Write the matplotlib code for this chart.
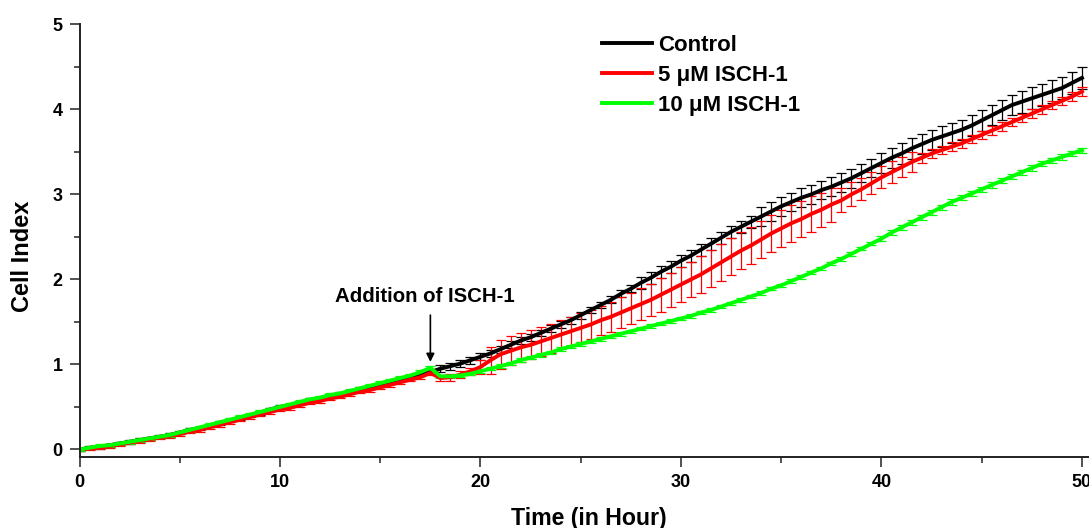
import matplotlib
matplotlib.use("Agg")
import matplotlib.pyplot as plt
import numpy as np
from matplotlib.ticker import MultipleLocator
from matplotlib.lines import Line2D

plt.rcParams['font.family'] = ['Liberation Sans', 'DejaVu Sans']
plt.rcParams['font.weight'] = 'bold'

# time points (hours), every 0.5 h
time_h = np.arange(0, 50.01, 0.5)

control = [0.00, 0.02, 0.03, 0.05, 0.07, 0.09, 0.11, 0.13, 0.15, 0.17,
           0.20, 0.23, 0.25, 0.28, 0.31, 0.34, 0.37, 0.40, 0.43, 0.47,
           0.50, 0.52, 0.55, 0.58, 0.60, 0.63, 0.65, 0.68, 0.71, 0.73,
           0.76, 0.79, 0.82, 0.85, 0.88, 0.91, 0.95, 0.98, 1.01, 1.05,
           1.09, 1.13, 1.18, 1.23, 1.28, 1.32, 1.37, 1.42, 1.47, 1.52,
           1.58, 1.64, 1.70, 1.76, 1.83, 1.89, 1.96, 2.02, 2.09, 2.15,
           2.22, 2.28, 2.35, 2.42, 2.49, 2.56, 2.62, 2.68, 2.74, 2.80,
           2.86, 2.91, 2.96, 3.00, 3.05, 3.09, 3.14, 3.19, 3.25, 3.31,
           3.37, 3.43, 3.48, 3.54, 3.59, 3.64, 3.68, 3.72, 3.76, 3.81,
           3.87, 3.93, 3.99, 4.05, 4.09, 4.13, 4.17, 4.21, 4.25, 4.31,
           4.37]
control_err = [0.02, 0.02, 0.02, 0.02, 0.02, 0.02, 0.02, 0.02, 0.02, 0.02,
               0.02, 0.02, 0.02, 0.02, 0.02, 0.02, 0.02, 0.02, 0.02, 0.02,
               0.02, 0.02, 0.02, 0.02, 0.02, 0.02, 0.02, 0.02, 0.02, 0.02,
               0.02, 0.02, 0.02, 0.02, 0.02, 0.02, 0.04, 0.04, 0.04, 0.04,
               0.04, 0.04, 0.04, 0.04, 0.04, 0.04, 0.04, 0.04, 0.04, 0.04,
               0.04, 0.04, 0.04, 0.04, 0.04, 0.04, 0.07, 0.07, 0.07, 0.07,
               0.07, 0.07, 0.07, 0.07, 0.07, 0.07, 0.07, 0.07, 0.11, 0.11,
               0.11, 0.11, 0.11, 0.11, 0.11, 0.11, 0.11, 0.11, 0.11, 0.11,
               0.12, 0.12, 0.12, 0.12, 0.12, 0.12, 0.12, 0.12, 0.12, 0.12,
               0.12, 0.12, 0.12, 0.12, 0.13, 0.13, 0.13, 0.13, 0.13, 0.13,
               0.13]

isch_5 = [0.00, 0.01, 0.02, 0.04, 0.06, 0.08, 0.10, 0.12, 0.14, 0.16,
          0.18, 0.21, 0.23, 0.26, 0.29, 0.32, 0.35, 0.38, 0.41, 0.44,
          0.47, 0.49, 0.52, 0.55, 0.57, 0.60, 0.62, 0.65, 0.68, 0.70,
          0.73, 0.76, 0.79, 0.82, 0.85, 0.90, 0.84, 0.85, 0.88, 0.92,
          0.97, 1.05, 1.12, 1.16, 1.20, 1.23, 1.27, 1.31, 1.35, 1.39,
          1.43, 1.47, 1.52, 1.56, 1.61, 1.66, 1.71, 1.76, 1.82, 1.88,
          1.94, 2.00, 2.06, 2.13, 2.20, 2.27, 2.34, 2.40, 2.47, 2.54,
          2.60, 2.66, 2.71, 2.77, 2.82, 2.88, 2.93, 3.00, 3.06, 3.13,
          3.20, 3.26, 3.32, 3.38, 3.43, 3.48, 3.52, 3.56, 3.60, 3.65,
          3.70, 3.75, 3.80, 3.85, 3.90, 3.95, 4.00, 4.05, 4.10, 4.15,
          4.21]
isch_5_err = [0.02, 0.02, 0.02, 0.02, 0.02, 0.02, 0.02, 0.02, 0.02, 0.02,
              0.02, 0.02, 0.02, 0.02, 0.02, 0.02, 0.02, 0.02, 0.02, 0.02,
              0.02, 0.02, 0.02, 0.02, 0.02, 0.02, 0.02, 0.02, 0.02, 0.02,
              0.02, 0.02, 0.02, 0.02, 0.02, 0.02, 0.04, 0.04, 0.04, 0.04,
              0.08, 0.16, 0.17, 0.17, 0.17, 0.17, 0.17, 0.17, 0.17, 0.17,
              0.17, 0.17, 0.17, 0.18, 0.18, 0.18, 0.19, 0.19, 0.20, 0.20,
              0.21, 0.21, 0.22, 0.22, 0.22, 0.22, 0.22, 0.22, 0.22, 0.22,
              0.22, 0.22, 0.21, 0.21, 0.20, 0.20, 0.14, 0.14, 0.13, 0.13,
              0.13, 0.13, 0.12, 0.12, 0.06, 0.05, 0.05, 0.05, 0.05, 0.05,
              0.05, 0.05, 0.05, 0.05, 0.05, 0.05, 0.05, 0.05, 0.05, 0.05,
              0.05]

isch_10 = [0.00, 0.02, 0.04, 0.05, 0.07, 0.09, 0.11, 0.13, 0.15, 0.17,
           0.20, 0.23, 0.26, 0.29, 0.32, 0.35, 0.38, 0.41, 0.44, 0.47,
           0.50, 0.53, 0.56, 0.59, 0.61, 0.64, 0.66, 0.69, 0.72, 0.75,
           0.78, 0.81, 0.84, 0.87, 0.91, 0.96, 0.86, 0.86, 0.87, 0.89,
           0.92, 0.95, 0.98, 1.01, 1.05, 1.08, 1.11, 1.14, 1.18, 1.21,
           1.24, 1.27, 1.30, 1.33, 1.36, 1.39, 1.42, 1.45, 1.48, 1.51,
           1.54, 1.57, 1.61, 1.64, 1.68, 1.72, 1.76, 1.80, 1.84, 1.89,
           1.93, 1.98, 2.03, 2.08, 2.13, 2.19, 2.24, 2.30, 2.36, 2.42,
           2.48, 2.55, 2.61, 2.67, 2.73, 2.79, 2.85, 2.91, 2.96, 3.01,
           3.06, 3.11, 3.16, 3.21, 3.26, 3.31, 3.36, 3.40, 3.44, 3.48,
           3.52]
isch_10_err = [0.02] * 80 + [0.03] * 21

labels = ['Control', '5 \u03bcM ISCH-1', '10 \u03bcM ISCH-1']
colors = ['#000000', '#ff0000', '#00ff00']

fig = plt.figure(figsize=(10.89, 5.28), dpi=100)
W, H = 1089, 528
left, right, top, bottom = 79.5, 1089, 24.3, 456.7
ax = fig.add_axes([left / W, 1 - bottom / H, (right - left) / W, (bottom - top) / H])

series = [control, isch_5, isch_10]
errs = [control_err, isch_5_err, isch_10_err]
for y, e, c, lab in zip(series, errs, colors, labels):
    ax.errorbar(time_h, y, yerr=e, color=c, lw=2.8, elinewidth=0.9,
                capsize=3.5, capthick=0.9, label=lab)

ax.set_xlim(0, 50.35)
ax.set_ylim(-0.085, 5)
ax.xaxis.set_major_locator(MultipleLocator(10))
ax.xaxis.set_minor_locator(MultipleLocator(5))
ax.yaxis.set_major_locator(MultipleLocator(1))
ax.yaxis.set_minor_locator(MultipleLocator(0.5))
for s in ['top', 'right']:
    ax.spines[s].set_visible(False)
for s in ['left', 'bottom']:
    ax.spines[s].set_linewidth(1.4)
    ax.spines[s].set_color('#222222')
ax.spines['left'].set_bounds(-0.085, 5)
ax.tick_params(which='major', length=7, width=1.1, labelsize=13, pad=5,
               color='#222222')
ax.tick_params(which='minor', length=4.5, width=1.1, color='#222222')
ax.tick_params(axis='x', which='major', pad=5.5)
for t in ax.get_xticklabels() + ax.get_yticklabels():
    t.set_fontweight('bold')

ax.set_xlabel('Time (in Hour)', fontsize=16.7, fontweight='bold')
ax.set_ylabel('Cell Index', fontsize=17, fontweight='bold')
ax.xaxis.set_label_coords(0.505, -0.142)
ax.xaxis.label.set_va('center')
ax.yaxis.set_label_coords(-0.056, 0.4625)
ax.yaxis.label.set_va('center')

lh = [Line2D([0], [0], color=c, lw=2.8) for c in colors]
leg = ax.legend(lh, labels, loc='upper left', bbox_to_anchor=(0.5176, 0.976),
                frameon=False, borderpad=0, borderaxespad=0, handlelength=2.25,
                handletextpad=0.27, labelspacing=0.41,
                prop={'size': 16, 'weight': 'bold'})

ax.annotate('', xy=(17.5, 1.03), xytext=(17.5, 1.58),
            arrowprops=dict(arrowstyle='-|>', color='black', lw=1.2,
                            mutation_scale=12, shrinkA=0, shrinkB=0))
ax.text(17.24, 1.735, 'Addition of ISCH-1', ha='center', va='baseline',
        fontsize=14.7, fontweight='bold')

fig.savefig('out.png', dpi=100)
